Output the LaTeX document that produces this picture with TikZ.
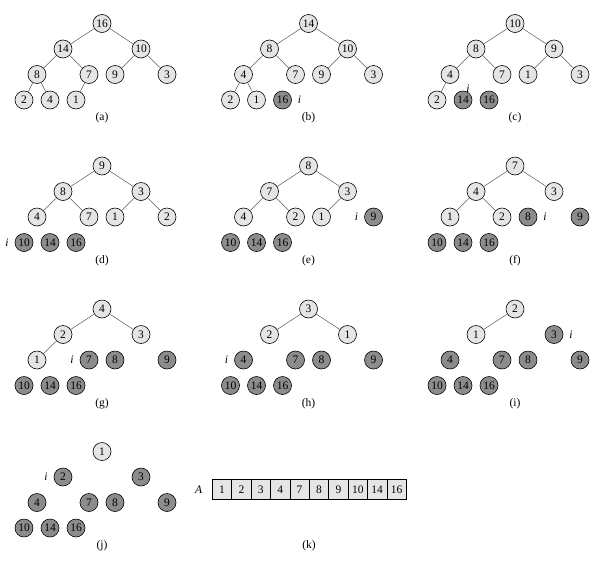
\documentclass[tikz,border=0pt]{standalone}
\usepackage{fontspec}
\setmainfont{Liberation Serif}
\usetikzlibrary{positioning}
\definecolor{heaplight}{gray}{0.9}
\definecolor{heapdark}{gray}{0.55}
\begin{document}
\begin{tikzpicture}[x=1pt, y=-1pt, font=\fontsize{11.5}{13}\selectfont,
  main/.style = {draw, circle, fill=heaplight, minimum size=18pt, inner sep=0pt, line width=0.6pt},
  done/.style = {main, fill=heapdark},
  edge/.style = {draw=black!65, line width=0.5pt},
  cell/.style = {draw, rectangle, fill=heaplight, minimum width=19.4pt, minimum height=19.5pt, inner sep=0pt, outer sep=0pt, line width=0.6pt}]
\useasboundingbox (0,0) rectangle (609,560);

\foreach \p/\cx/\cy/\heap/\ip/\ix/\iy/\vals in {
  a/102/23.5/10/0/0/0/{16,14,10,8,7,9,3,2,4,1},
  b/308.5/23.5/9/10/17/0/{14,8,10,4,7,9,3,2,1,16},
  c/515/23.5/8/9/5/11/{10,8,9,4,7,1,3,2,14,16},
  d/102/166/7/8/-17/0/{9,8,3,4,7,1,2,10,14,16},
  e/308.5/166/6/7/-17/0/{8,7,3,4,2,1,9,10,14,16},
  f/515/166/5/6/17/0/{7,4,3,1,2,8,9,10,14,16},
  g/102/309/4/5/-17/0/{4,2,3,1,7,8,9,10,14,16},
  h/308.5/309/3/4/-17/0/{3,2,1,4,7,8,9,10,14,16},
  i/515/309/2/3/17/0/{2,1,3,4,7,8,9,10,14,16},
  j/102/451.5/1/2/-17/0/{1,2,3,4,7,8,9,10,14,16}} {
  \foreach \v [count=\k] in \vals {
    \pgfmathsetmacro\dx{{0,-39,39,-65,-13,13,65,-78,-52,-26}[\k-1]}
    \pgfmathsetmacro\dy{{0,25.5,25.5,51,51,51,51,76.5,76.5,76.5}[\k-1]}
    \ifnum\k>\heap \def\sty{done}\else\def\sty{main}\fi
    \node[\sty] (\p\k) at (\cx+\dx, \cy+\dy) {\v};
    \ifnum\k>1 \ifnum\k>\heap\else
      \pgfmathtruncatemacro\up{\k/2}
      \draw[edge] (\p\up) -- (\p\k);
    \fi\fi
  }
  \ifnum\ip>0
    \node[inner sep=1pt, xshift=\ix pt, yshift=\iy pt] (\p i) at (\p\ip) {\textit{i}};
  \fi
  \node (\p lab) at (\cx, \cy+94.5) {(\p)};
}

\node[cell] (k1) at (222, 489.5) {1};
\node[cell] (k2) [right=0pt of k1] {2};
\node[cell] (k3) [right=0pt of k2] {3};
\node[cell] (k4) [right=0pt of k3] {4};
\node[cell] (k5) [right=0pt of k4] {7};
\node[cell] (k6) [right=0pt of k5] {8};
\node[cell] (k7) [right=0pt of k6] {9};
\node[cell] (k8) [right=0pt of k7] {10};
\node[cell] (k9) [right=0pt of k8] {14};
\node[cell] (k10) [right=0pt of k9] {16};
\node (A) [left=9pt of k1, inner sep=1pt] {\textit{A}};
\node (klab) at (309, 546) {(k)};

\end{tikzpicture}
\end{document}
